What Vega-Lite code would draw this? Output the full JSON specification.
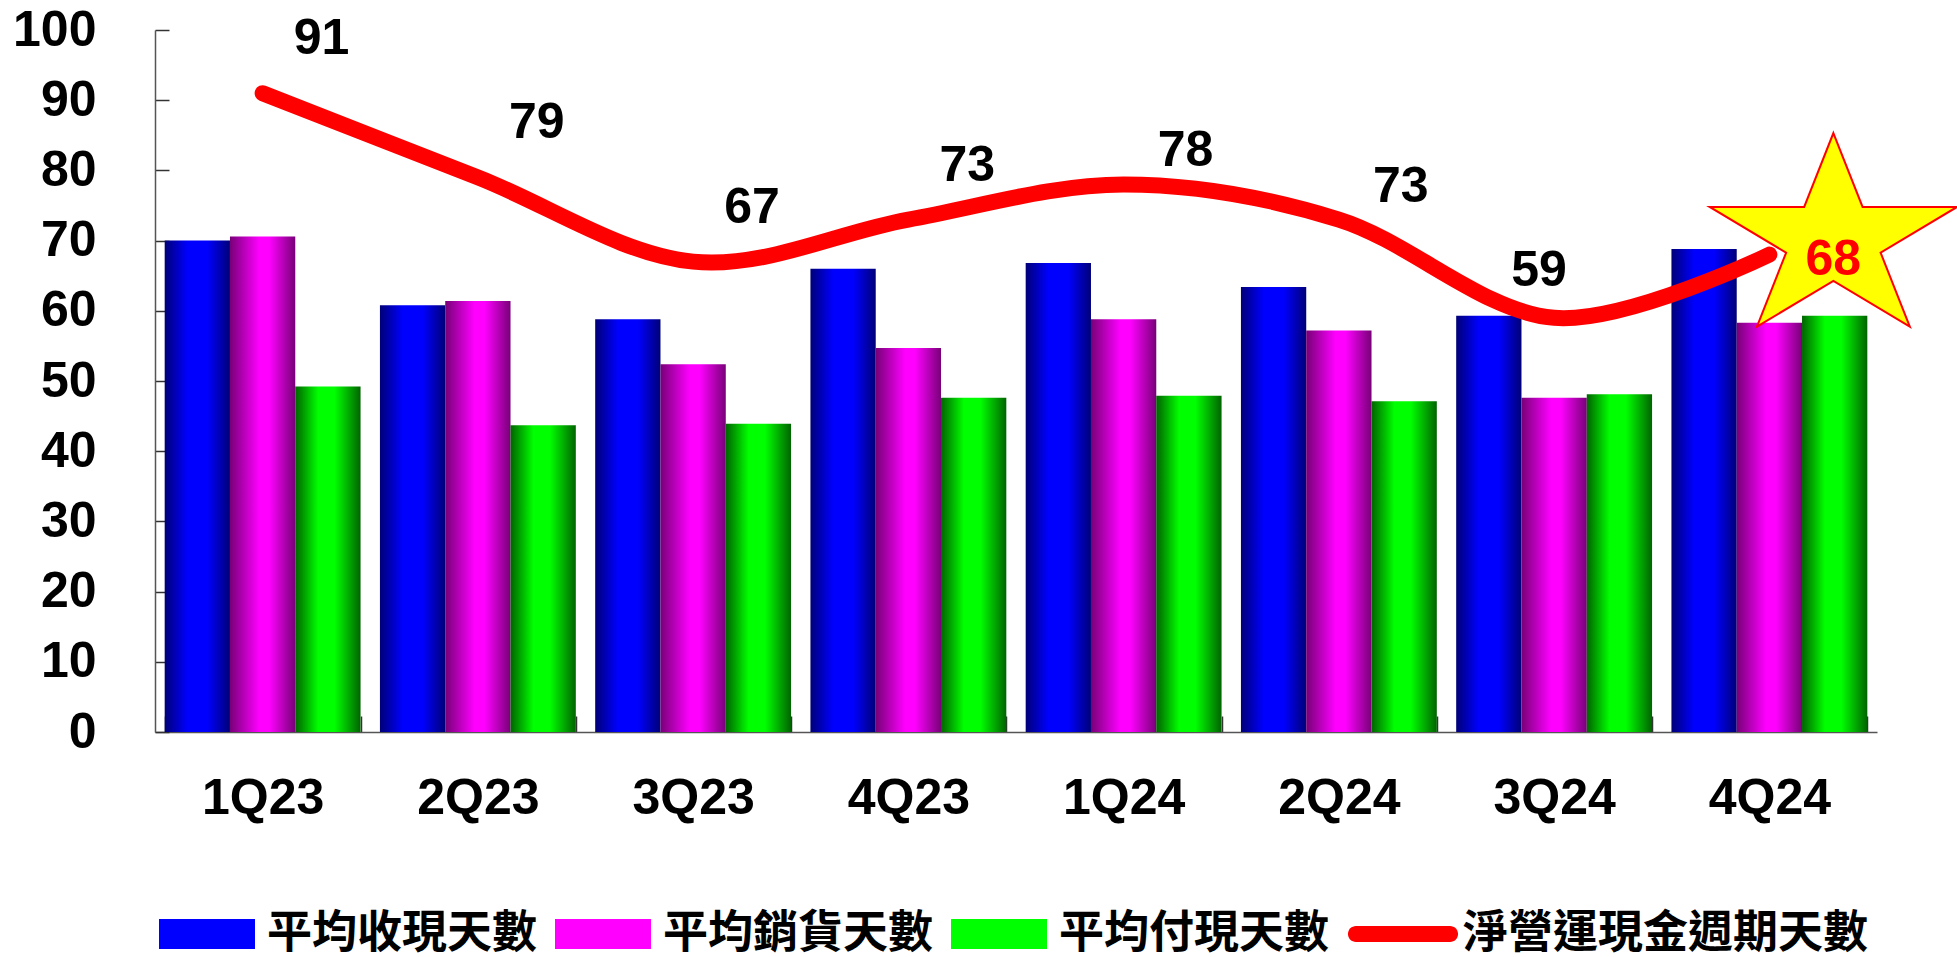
{
  "$schema": "https://vega.github.io/schema/vega-lite/v6.json",
  "width": 1722,
  "height": 702,
  "autosize": {"type": "none"},
  "padding": {"left": 155, "top": 30, "right": 80, "bottom": 225},
  "background": "white",
  "config": {
    "view": {"stroke": null},
    "font": "Liberation Sans",
    "axis": {"grid": false, "labelFont": "Liberation Sans", "labelFontWeight": "bold", "labelFontSize": 50, "labelColor": "black", "title": null, "domainColor": "#555555", "domainWidth": 1.5, "tickColor": "#333333", "tickWidth": 1.5}
  },
  "datasets": {
    "bars": [
      {"quarter": "1Q23", "series": "平均收現天數", "value": 70.0},
      {"quarter": "1Q23", "series": "平均銷貨天數", "value": 70.6},
      {"quarter": "1Q23", "series": "平均付現天數", "value": 49.2},
      {"quarter": "2Q23", "series": "平均收現天數", "value": 60.8},
      {"quarter": "2Q23", "series": "平均銷貨天數", "value": 61.4},
      {"quarter": "2Q23", "series": "平均付現天數", "value": 43.7},
      {"quarter": "3Q23", "series": "平均收現天數", "value": 58.8},
      {"quarter": "3Q23", "series": "平均銷貨天數", "value": 52.4},
      {"quarter": "3Q23", "series": "平均付現天數", "value": 43.9},
      {"quarter": "4Q23", "series": "平均收現天數", "value": 66.0},
      {"quarter": "4Q23", "series": "平均銷貨天數", "value": 54.7},
      {"quarter": "4Q23", "series": "平均付現天數", "value": 47.6},
      {"quarter": "1Q24", "series": "平均收現天數", "value": 66.8},
      {"quarter": "1Q24", "series": "平均銷貨天數", "value": 58.8},
      {"quarter": "1Q24", "series": "平均付現天數", "value": 47.9},
      {"quarter": "2Q24", "series": "平均收現天數", "value": 63.4},
      {"quarter": "2Q24", "series": "平均銷貨天數", "value": 57.2},
      {"quarter": "2Q24", "series": "平均付現天數", "value": 47.1},
      {"quarter": "3Q24", "series": "平均收現天數", "value": 59.3},
      {"quarter": "3Q24", "series": "平均銷貨天數", "value": 47.6},
      {"quarter": "3Q24", "series": "平均付現天數", "value": 48.1},
      {"quarter": "4Q24", "series": "平均收現天數", "value": 68.8},
      {"quarter": "4Q24", "series": "平均銷貨天數", "value": 58.3},
      {"quarter": "4Q24", "series": "平均付現天數", "value": 59.3}
    ],
    "line": [
      {"quarter": "1Q23", "days": 91, "grp": "a"},
      {"quarter": "2Q23", "days": 79, "grp": "a"},
      {"quarter": "3Q23", "days": 67, "grp": "a"},
      {"quarter": "4Q23", "days": 73, "grp": "a"},
      {"quarter": "1Q24", "days": 78, "grp": "b"},
      {"quarter": "2Q24", "days": 73, "grp": "b"},
      {"quarter": "3Q24", "days": 59, "grp": "c"},
      {"quarter": "4Q24", "days": 68, "grp": "d"}
    ]
  },
  "encoding": {
    "x": {
      "field": "quarter", "type": "nominal",
      "scale": {"domain": ["1Q23", "2Q23", "3Q23", "4Q23", "1Q24", "2Q24", "3Q24", "4Q24"], "paddingInner": 0.09, "paddingOuter": 0.045},
      "axis": {"labelAngle": 0, "tickBand": "extent", "tickSize": -16, "labelPadding": 57, "labelBaseline": "top"}
    }
  },
  "layer": [
    {
      "data": {"name": "bars"},
      "mark": {"type": "point", "filled": true, "opacity": 0, "size": 1},
      "encoding": {
        "y": {
          "field": "value", "type": "quantitative",
          "scale": {"domain": [0, 100], "nice": false, "zero": true},
          "axis": {"values": [0, 10, 20, 30, 40, 50, 60, 70, 80, 90, 100], "tickSize": -14, "labelPadding": 73, "labelBaseline": "middle"}
        },
        "color": {
          "field": "series", "type": "nominal",
          "scale": {
            "domain": ["平均收現天數", "平均銷貨天數", "平均付現天數", "淨營運現金週期天數"],
            "range": ["#0000FF", "#FF00FF", "#00FF00", "#FF0000"]
          },
          "legend": {
            "orient": "none", "legendX": 4, "legendY": 856, "direction": "horizontal", "columns": 4,
            "title": null, "padding": 0,
            "labelFont": "Noto Sans CJK TC", "labelFontSize": 45, "labelFontWeight": "bold", "labelColor": "black", "labelLimit": 1000,
            "labelOffset": 12, "columnPadding": 17, "symbolSize": 9216, "symbolStrokeWidth": 0, "symbolOpacity": 1,
            "encode": {
              "symbols": {
                "update": {
                  "shape": {"signal": "datum.value === '淨營運現金週期天數' ? 'M-0.98,-0.1667H0.98A0.1667,0.1667 0 0 1 0.98,0.1667H-0.98A0.1667,0.1667 0 0 1 -0.98,-0.1667Z' : 'M-1,-0.3125H1V0.3125H-1Z'"},
                  "fill": {"signal": "datum.value === '平均收現天數' ? {gradient: 'linear', x1: 0, y1: 0, x2: 1, y2: 0, stops: [{offset: 0, color: '#000078'}, {offset: 0.6, color: '#0000FF'}, {offset: 1, color: '#000078'}]} : datum.value === '平均銷貨天數' ? {gradient: 'linear', x1: 0, y1: 0, x2: 1, y2: 0, stops: [{offset: 0, color: '#780078'}, {offset: 0.6, color: '#FF00FF'}, {offset: 1, color: '#780078'}]} : datum.value === '平均付現天數' ? {gradient: 'linear', x1: 0, y1: 0, x2: 1, y2: 0, stops: [{offset: 0, color: '#006400'}, {offset: 0.6, color: '#00FF00'}, {offset: 1, color: '#006400'}]} : '#FF0000'"},
                  "size": {"value": 9216},
                  "stroke": {"value": "transparent"},
                  "strokeWidth": {"value": 0},
                  "opacity": {"value": 1},
                  "fillOpacity": {"value": 1}
                }
              }
            }
          }
        }
      }
    },
    {
      "data": {"name": "bars"},
      "transform": [{"filter": "datum.series === '平均收現天數'"}],
      "mark": {"type": "bar", "strokeWidth": 0, "fill": {"gradient": "linear", "x1": 0, "y1": 0, "x2": 1, "y2": 0, "stops": [{"offset": 0, "color": "#000078"}, {"offset": 0.35, "color": "#0000FF"}, {"offset": 0.65, "color": "#0000FF"}, {"offset": 1, "color": "#000078"}]}},
      "encoding": {
        "xOffset": {"field": "series", "type": "nominal", "scale": {"domain": ["平均收現天數", "平均銷貨天數", "平均付現天數"], "paddingInner": 0, "paddingOuter": 0}},
        "y": {"field": "value", "type": "quantitative"}
      }
    },
    {
      "data": {"name": "bars"},
      "transform": [{"filter": "datum.series === '平均銷貨天數'"}],
      "mark": {"type": "bar", "strokeWidth": 0, "fill": {"gradient": "linear", "x1": 0, "y1": 0, "x2": 1, "y2": 0, "stops": [{"offset": 0, "color": "#780078"}, {"offset": 0.45, "color": "#FF00FF"}, {"offset": 0.6, "color": "#FF00FF"}, {"offset": 1, "color": "#780078"}]}},
      "encoding": {
        "xOffset": {"field": "series", "type": "nominal"},
        "y": {"field": "value", "type": "quantitative"}
      }
    },
    {
      "data": {"name": "bars"},
      "transform": [{"filter": "datum.series === '平均付現天數'"}],
      "mark": {"type": "bar", "strokeWidth": 0, "fill": {"gradient": "linear", "x1": 0, "y1": 0, "x2": 1, "y2": 0, "stops": [{"offset": 0, "color": "#006400"}, {"offset": 0.35, "color": "#00FF00"}, {"offset": 0.6, "color": "#00FF00"}, {"offset": 1, "color": "#006400"}]}},
      "encoding": {
        "xOffset": {"field": "series", "type": "nominal"},
        "y": {"field": "value", "type": "quantitative"}
      }
    },
    {
      "data": {"name": "line"},
      "mark": {"type": "line", "strokeWidth": 16, "strokeCap": "round", "strokeJoin": "round", "interpolate": "cardinal", "tension": 0},
      "encoding": {
        "y": {"field": "days", "type": "quantitative"},
        "color": {"datum": "淨營運現金週期天數"}
      }
    },
    {
      "data": {"name": "line"},
      "transform": [{"filter": "datum.grp === 'd'"}],
      "mark": {"type": "point", "filled": true, "fill": "#FFFF00", "stroke": "#FF0000", "strokeWidth": 2, "opacity": 1, "size": 45796, "xOffset": 64, "yOffset": -14.6,
        "shape": "M0,-1L0.2728,-0.309L1.1556,-0.309L0.4414,0.118L0.7142,0.809L0,0.382L-0.7142,0.809L-0.4414,0.118L-1.1556,-0.309L-0.2728,-0.309Z"},
      "encoding": {
        "y": {"field": "days", "type": "quantitative"}
      }
    },
    {
      "data": {"name": "line"},
      "transform": [{"filter": "datum.grp === 'a'"}],
      "mark": {"type": "text", "font": "Liberation Sans", "fontWeight": "bold", "fontSize": 50, "color": "black", "align": "center", "baseline": "middle", "dx": 59, "dy": -54},
      "encoding": {"y": {"field": "days", "type": "quantitative"}, "text": {"field": "days", "type": "quantitative"}}
    },
    {
      "data": {"name": "line"},
      "transform": [{"filter": "datum.grp === 'b'"}],
      "mark": {"type": "text", "font": "Liberation Sans", "fontWeight": "bold", "fontSize": 50, "color": "black", "align": "center", "baseline": "middle", "dx": 62, "dy": -33},
      "encoding": {"y": {"field": "days", "type": "quantitative"}, "text": {"field": "days", "type": "quantitative"}}
    },
    {
      "data": {"name": "line"},
      "transform": [{"filter": "datum.grp === 'c'"}],
      "mark": {"type": "text", "font": "Liberation Sans", "fontWeight": "bold", "fontSize": 50, "color": "black", "align": "center", "baseline": "middle", "dx": -15, "dy": -47},
      "encoding": {"y": {"field": "days", "type": "quantitative"}, "text": {"field": "days", "type": "quantitative"}}
    },
    {
      "data": {"name": "line"},
      "transform": [{"filter": "datum.grp === 'd'"}],
      "mark": {"type": "text", "font": "Liberation Sans", "fontWeight": "bold", "fontSize": 50, "color": "#FF0000", "align": "center", "baseline": "middle", "dx": 64, "dy": 5},
      "encoding": {"y": {"field": "days", "type": "quantitative"}, "text": {"field": "days", "type": "quantitative"}}
    }
  ]
}
